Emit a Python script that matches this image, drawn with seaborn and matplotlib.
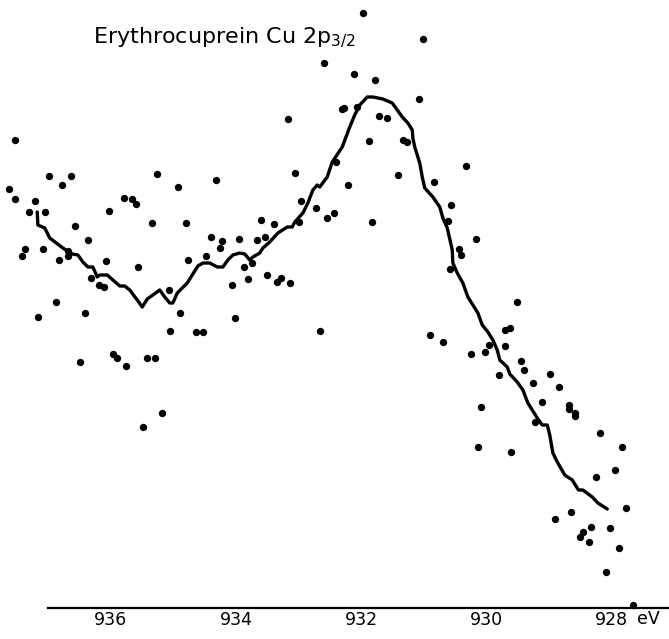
import matplotlib
matplotlib.use("Agg")
import matplotlib.pyplot as plt
import seaborn as sns
import pandas as pd

# ---- data (binding energy in eV, intensity in arbitrary units) ----
point_energy = [
    932.59, 933.17, 937.54, 936.99, 936.64, 936.78, 937.63, 937.54, 937.22, 937.31,
    937.06, 935.26, 934.93, 934.32, 935.79, 935.66, 935.60, 936.03, 933.06, 932.96,
    932.72, 931.97, 931.01, 932.11, 931.78, 931.07, 932.30, 932.27, 932.06, 931.71,
    931.58, 931.87, 931.33, 931.26, 930.32, 932.40, 931.41, 932.21, 930.83, 930.56,
    930.61, 936.58, 936.37, 935.34, 934.80, 934.40, 934.22, 934.26, 937.38, 937.42,
    937.09, 936.69, 936.69, 936.83, 936.08, 935.57, 934.77, 934.48, 936.32, 936.19,
    936.11, 935.07, 936.88, 937.17, 936.42, 934.90, 935.06, 934.64, 934.53, 936.50,
    935.97, 935.90, 935.76, 935.42, 935.30, 935.18, 935.49, 932.54, 932.43, 931.82,
    933.60, 933.39, 932.99, 933.95, 933.66, 933.54, 933.87, 933.74, 933.81, 934.06,
    933.50, 933.34, 933.28, 933.14, 934.02, 932.66, 930.16, 930.43, 930.40, 930.58,
    929.50, 929.70, 929.62, 930.90, 930.69, 929.95, 929.70, 930.02, 930.24, 929.44,
    929.39, 929.79, 928.98, 929.25, 928.83, 929.10, 928.67, 928.67, 928.58, 928.58,
    930.08, 929.22, 928.18, 930.13, 929.60, 927.82, 927.94, 928.24, 927.76, 928.64,
    928.90, 928.32, 928.02, 928.45, 928.50, 928.35, 927.87, 928.08, 927.65,
]
point_intensity = [
    545, 489, 468, 432, 432, 423, 419, 409, 407, 396,
    396, 434, 421, 428, 410, 409, 404, 397, 435, 407,
    400, 595, 569, 534, 528, 509, 499, 500, 501, 492,
    490, 467, 468, 466, 442, 446, 433, 423, 426, 403,
    387, 382, 368, 385, 385, 371, 367, 360, 359, 352,
    359, 357, 352, 348, 347, 341, 348, 352, 330, 323,
    321, 318, 306, 291, 295, 295, 277, 276, 276, 246,
    254, 250, 242, 250, 250, 195, 181, 390, 395, 386,
    388, 384, 386, 369, 368, 371, 341, 345, 329, 323,
    333, 326, 330, 325, 290, 277, 369, 359, 353, 339,
    306, 278, 280, 273, 266, 263, 262, 256, 254, 247,
    238, 233, 234, 225, 221, 206, 203, 199, 195, 192,
    201, 186, 175, 161, 156, 161, 138, 131, 100, 96,
    89, 81, 80, 76, 71, 66, 60, 36, 3,
]

smooth_energy = [
    937.18, 937.17, 937.06, 936.98, 936.77, 936.62, 936.53, 936.45, 936.37, 936.29,
    936.22, 936.18, 936.06, 935.97, 935.86, 935.78, 935.70, 935.58, 935.50, 935.42,
    935.33, 935.22, 935.14, 935.06, 935.01, 934.94, 934.86, 934.78, 934.70, 934.61,
    934.53, 934.42, 934.30, 934.21, 934.13, 934.05, 933.94, 933.86, 933.78, 933.73,
    933.62, 933.57, 933.46, 933.33, 933.18, 933.10, 933.06, 932.93, 932.85, 932.77,
    932.70, 932.66, 932.54, 932.46, 932.30, 932.18, 932.10, 932.02, 931.90, 931.81,
    931.73, 931.65, 931.50, 931.42, 931.34, 931.25, 931.18, 931.17, 931.14, 931.09,
    931.06, 931.02, 930.98, 930.85, 930.74, 930.69, 930.62, 930.54, 930.53, 930.46,
    930.37, 930.29, 930.21, 930.13, 930.06, 929.97, 929.89, 929.82, 929.78, 929.66,
    929.62, 929.50, 929.41, 929.33, 929.18, 929.10, 929.02, 928.98, 928.93, 928.85,
    928.74, 928.62, 928.52, 928.45, 928.30, 928.21, 928.06,
]
smooth_intensity = [
    396, 383, 380, 370, 360, 354, 353, 346, 341, 341,
    331, 333, 333, 328, 322, 322, 318, 308, 301, 309,
    313, 318, 311, 305, 305, 315, 320, 325, 333, 342,
    345, 345, 341, 341, 348, 353, 355, 354, 348, 351,
    355, 360, 366, 375, 381, 381, 386, 395, 405, 418,
    423, 421, 431, 446, 461, 481, 493, 503, 511, 511,
    510, 509, 505, 498, 491, 485, 478, 470, 461, 451,
    445, 431, 420, 411, 401, 390, 380, 358, 345, 335,
    325, 311, 303, 295, 283, 276, 268, 258, 248, 241,
    234, 226, 218, 205, 190, 183, 183, 173, 155, 145,
    133, 128, 118, 118, 111, 105, 99,
]

major_ticks = [936, 934, 932, 930, 928]
minor_ticks = [937, 935, 933, 931, 929]
tick_labels = ["936", "934", "932", "930", "928"]
title_text = "Erythrocuprein Cu 2p$_{3/2}$"
unit_text = "eV"

points = pd.DataFrame({"E": point_energy, "I": point_intensity})
smooth = pd.DataFrame({"E": smooth_energy, "I": smooth_intensity})

sns.set_style("white")
plt.rcParams["font.family"] = ["DejaVu Sans"]

W, H = 669, 639
fig = plt.figure(figsize=(W / 100, H / 100), dpi=100)
ax = fig.add_axes([0, 31 / H, 1, 608 / H])

sns.lineplot(data=smooth, x="E", y="I", ax=ax, color="black", lw=2.4,
             sort=False, estimator=None)
sns.scatterplot(data=points, x="E", y="I", ax=ax, color="black", s=28,
                linewidth=0, clip_on=False)

ax.set_xlim(937.776, 927.072)
ax.set_ylim(0, 608)

for side in ["left", "right", "top"]:
    ax.spines[side].set_visible(False)
ax.spines["bottom"].set_linewidth(1.6)
ax.spines["bottom"].set_color("black")
ax.spines["bottom"].set_bounds(937.0, 927.072)

ax.set_xticks(major_ticks)
ax.set_xticklabels(tick_labels)
ax.set_xticks(minor_ticks, minor=True)
ax.tick_params(axis="x", which="both", direction="in", length=11, width=1.0,
               color="black")
ax.tick_params(axis="x", which="major", labelsize=12.5, pad=2, labelcolor="black")
ax.set_yticks([])
ax.set_xlabel("")
ax.set_ylabel("")

ax.text(927.41, -2, unit_text, fontsize=12.5, ha="center", va="top",
        color="black", transform=ax.transData, clip_on=False)
ax.text(936.29, 565, title_text, fontsize=16, ha="left", va="baseline",
        color="black")

fig.savefig("out.png", dpi=100)
